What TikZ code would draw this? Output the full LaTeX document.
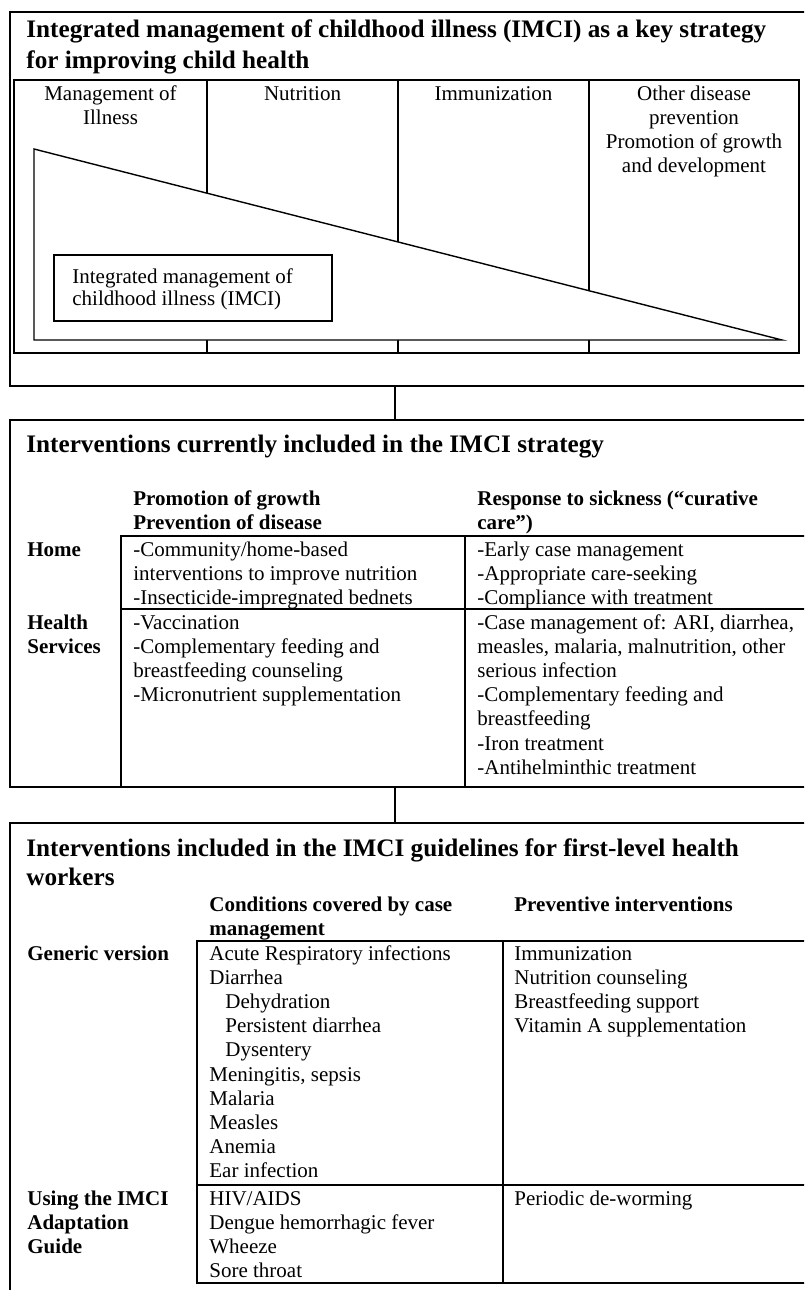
\documentclass[tikz,border=0pt]{standalone}
\usepackage{fontspec}
\setmainfont{Liberation Serif}
\usetikzlibrary{positioning}

% stacked lines hanging from the first baseline
\newcommand{\lft}[1]{\begin{tabular}[t]{@{}l@{}}#1\end{tabular}}
\newcommand{\ctr}[1]{\begin{tabular}[t]{@{}c@{}}#1\end{tabular}}

\tikzset{
  frame/.style={line width=0.7pt},
  txt/.style={anchor=base west, inner sep=0pt,
    font=\fontsize{10.5}{12.1}\selectfont},
  head/.style={txt, font=\fontsize{10.5}{12.1}\selectfont\bfseries},
  title/.style={txt, font=\fontsize{12.6}{15}\selectfont\bfseries},
  colhead/.style={anchor=base, inner sep=0pt,
    font=\fontsize{10.5}{12}\selectfont},
}

\begin{document}
\begin{tikzpicture}[x=0.5pt,y=-0.5pt]
\useasboundingbox (0,0) rectangle (804,1290);
\clip (0,0) rectangle (804,1290);

% first panel: the strategy
\draw[frame] (10,12) rectangle (830,386);
\node[title] (title1) at (26,38)
  {\lft{Integrated management of childhood illness (IMCI) as a key strategy\\for improving child health}};
\draw[frame] (14,80) rectangle (799,353);
\foreach \x in {207,398,589}
  \draw[frame] (\x,80) -- (\x,353);
\filldraw[frame,fill=white] (34,149) -- (34,340) -- (782,340) -- cycle;
\node[colhead] (illness) at (110.5,100) {\ctr{Management of\\Illness}};
\node[colhead] (nutrition) at (302.5,100) {Nutrition};
\node[colhead] (immun) at (493.5,100) {Immunization};
\node[colhead] (other) at (694,100)
  {\ctr{Other disease\\prevention\\Promotion of growth\\and development}};
\draw[frame] (54,255) rectangle (332,321);
\node[txt, font=\fontsize{10.5}{11}\selectfont] (imci) at (72,283)
  {\lft{Integrated management of\\childhood illness (IMCI)}};

\coordinate (p1s) at (395,386);
\coordinate (p2n) at (395,420);
\draw[frame] (p1s) -- (p2n);

% second panel: interventions in the strategy
\draw[frame] (10,420) rectangle (830,787);
\node[title] (title2) at (26,452) {Interventions currently included in the IMCI strategy};
\node[head] (promo) at (133,505) {\lft{Promotion of growth\\Prevention of disease}};
\node[head] (resp) at (477,505) {\lft{Response to sickness (“curative\\care”)}};
\draw[frame] (121,787) -- (121,536) -- (830,536);
\draw[frame] (121,609) -- (830,609);
\draw[frame] (465,536) -- (465,787);
\node[head] (home) at (27,556) {Home};
\node[head] (hserv) at (27,629) {\lft{Health\\Services}};
\node[txt] (homeprev) at (133,556)
  {\lft{-Community/home-based\\interventions to improve nutrition\\-Insecticide-impregnated bednets}};
\node[txt] (homecure) at (477,556)
  {\lft{-Early case management\\-Appropriate care-seeking\\-Compliance with treatment}};
\node[txt] (hsprev) at (133,629)
  {\lft{-Vaccination\\-Complementary feeding and\\breastfeeding counseling\\-Micronutrient supplementation}};
\node[txt] (hscure) at (477,629)
  {\lft{-Case management of: ARI, diarrhea,\\measles, malaria, malnutrition, other\\serious infection\\-Complementary feeding and\\breastfeeding\\-Iron treatment\\-Antihelminthic treatment}};

\coordinate (p2s) at (395,787);
\coordinate (p3n) at (395,823);
\draw[frame] (p2s) -- (p3n);

% third panel: guidelines for first-level workers
\draw[frame] (10,823) rectangle (830,1300);
\node[title, font=\fontsize{12.6}{14.6}\selectfont\bfseries] (title3) at (26,856)
  {\lft{Interventions included in the IMCI guidelines for first-level health\\workers}};
\node[head] (cond) at (209,911) {\lft{Conditions covered by case\\management}};
\node[head] (prev) at (514,911) {Preventive interventions};
\draw[frame] (197,941) rectangle (830,1283);
\draw[frame] (503,941) -- (503,1283);
\draw[frame] (197,1185) -- (830,1185);
\node[head] (generic) at (27,960) {Generic version};
\node[head] (adapt) at (27,1205) {\lft{Using the IMCI\\Adaptation\\Guide}};
\node[txt] (gencond) at (209,960)
  {\lft{Acute Respiratory infections\\Diarrhea\\\hspace*{8pt}Dehydration\\\hspace*{8pt}Persistent diarrhea\\\hspace*{8pt}Dysentery\\Meningitis, sepsis\\Malaria\\Measles\\Anemia\\Ear infection}};
\node[txt] (genprev) at (514,960)
  {\lft{Immunization\\Nutrition counseling\\Breastfeeding support\\Vitamin A supplementation}};
\node[txt] (adcond) at (209,1205)
  {\lft{HIV/AIDS\\Dengue hemorrhagic fever\\Wheeze\\Sore throat}};
\node[txt] (adprev) at (514,1205) {Periodic de-worming};
\end{tikzpicture}
\end{document}
